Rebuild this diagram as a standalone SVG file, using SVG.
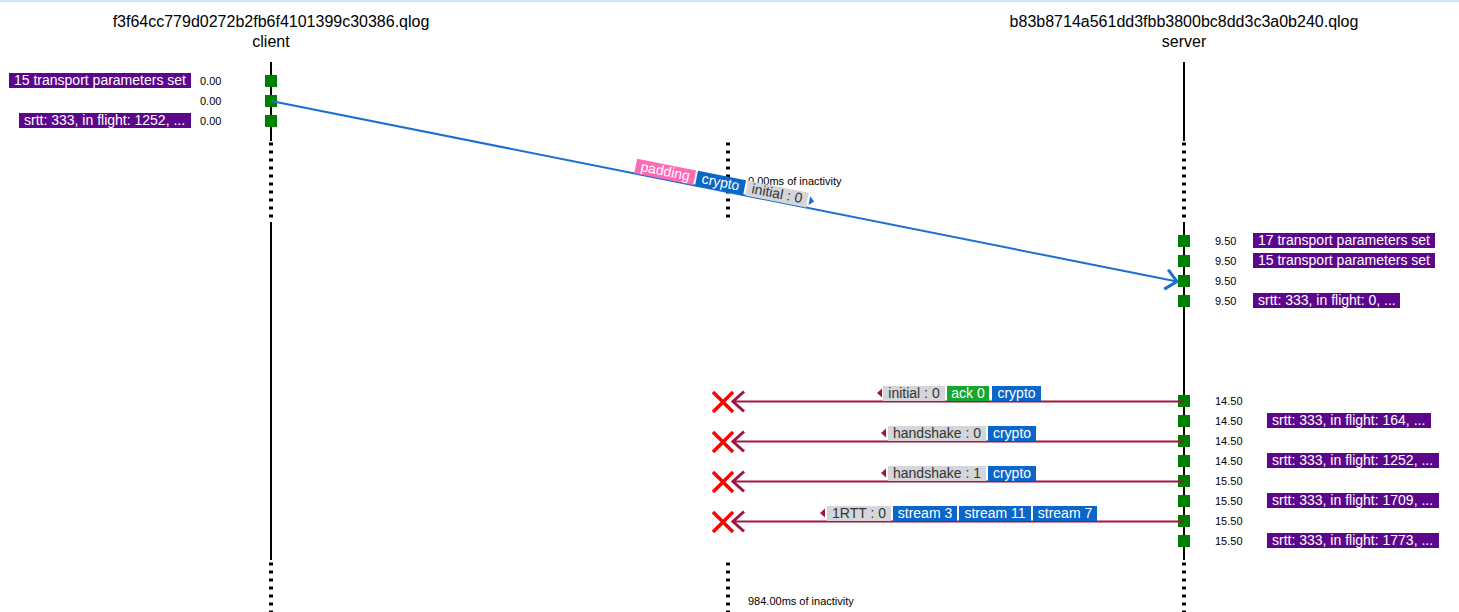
<svg xmlns="http://www.w3.org/2000/svg" width="1459" height="612" viewBox="0 0 1459 612">
<style>
text{font-family:"Liberation Sans",Arial,sans-serif}
.title{font-size:16px;fill:#000;text-anchor:middle}
.axis{stroke:#000;stroke-width:2}
.dots{stroke:#000;stroke-width:4;stroke-dasharray:3 5}
.ev{fill:#008000}
.time{font-size:11px;fill:#000}
.inact{font-size:11px;fill:#000}
.tag{fill:#5c068c}
.tagt{font-size:14px;fill:#fff}
.lbl{font-size:14px;text-anchor:middle;fill:#fff}
.hdr{fill:#d4d6d9}
.hdrt{font-size:14px;text-anchor:middle;fill:#333}
.blue{fill:#0b66c9}
.green{fill:#14a830}
.pink{fill:#ff69b4}
.sent{stroke:#1a6fd0;stroke-width:2;fill:none}
.lost{stroke:#a31440;stroke-width:2;fill:none}
.xm{stroke:#ff0000;stroke-width:3.5;fill:none}
</style>
<defs>
<marker id="hb" markerUnits="userSpaceOnUse" markerWidth="30" markerHeight="30" viewBox="-15 -15 30 30" refX="0" refY="0" orient="auto">
<path d="M-11,-10 L0,0 L-11,10" fill="none" stroke="#1a6fd0" stroke-width="3"/>
</marker>
<marker id="hr" markerUnits="userSpaceOnUse" markerWidth="30" markerHeight="30" viewBox="-15 -15 30 30" refX="0" refY="0" orient="auto">
<path d="M-11,-10 L0,0 L-11,10" fill="none" stroke="#a31440" stroke-width="3"/>
</marker>
</defs>
<rect x="0" y="0" width="1459" height="2" fill="#cde4f7"/>

<g id="client">
<text class="title" x="271" y="27">f3f64cc779d0272b2fb6f4101399c30386.qlog</text>
<text class="title" x="271" y="47">client</text>
<line class="axis" x1="271" y1="62" x2="271" y2="141"/>
<line class="dots" x1="271" y1="142.5" x2="271" y2="219"/>
<line class="axis" x1="271" y1="222" x2="271" y2="560"/>
<line class="dots" x1="271" y1="562.5" x2="271" y2="612"/>
</g>

<g id="server">
<text class="title" x="1184" y="27">b83b8714a561dd3fbb3800bc8dd3c3a0b240.qlog</text>
<text class="title" x="1184" y="47">server</text>
<line class="axis" x1="1184" y1="62" x2="1184" y2="141"/>
<line class="dots" x1="1184" y1="142.5" x2="1184" y2="219"/>
<line class="axis" x1="1184" y1="222" x2="1184" y2="560"/>
<line class="dots" x1="1184" y1="562.5" x2="1184" y2="612"/>
</g>

<g id="inactivity-1">
<line class="dots" x1="728" y1="142.5" x2="728" y2="219"/>
<text class="inact" x="748" y="185">0.00ms of inactivity</text>
</g>
<g id="inactivity-2">
<line class="dots" x1="728" y1="562.5" x2="728" y2="612"/>
<text class="inact" x="748" y="605">984.00ms of inactivity</text>
</g>

<g id="client-events">
<rect class="tag" x="9" y="73" width="182" height="15"/>
<text class="tagt" x="14" y="85">15 transport parameters set</text>
<text class="time" x="200" y="85">0.00</text>
<rect class="ev" x="265" y="75" width="12" height="12"/>
<text class="time" x="200" y="105">0.00</text>
<rect class="ev" x="265" y="95" width="12" height="12"/>
<rect class="tag" x="19" y="113" width="172" height="15"/>
<text class="tagt" x="24" y="125">srtt: 333, in flight: 1252, ...</text>
<text class="time" x="200" y="125">0.00</text>
<rect class="ev" x="265" y="115" width="12" height="12"/>
</g>

<g id="server-events">
<rect class="ev" x="1178" y="235" width="12" height="12"/>
<text class="time" x="1215" y="245">9.50</text>
<rect class="tag" x="1253" y="233" width="182" height="15"/>
<text class="tagt" x="1258" y="245">17 transport parameters set</text>
<rect class="ev" x="1178" y="255" width="12" height="12"/>
<text class="time" x="1215" y="265">9.50</text>
<rect class="tag" x="1253" y="253" width="182" height="15"/>
<text class="tagt" x="1258" y="265">15 transport parameters set</text>
<rect class="ev" x="1178" y="275" width="12" height="12"/>
<text class="time" x="1215" y="285">9.50</text>
<rect class="ev" x="1178" y="295" width="12" height="12"/>
<text class="time" x="1215" y="305">9.50</text>
<rect class="tag" x="1253" y="293" width="147" height="15"/>
<text class="tagt" x="1258" y="305">srtt: 333, in flight: 0, ...</text>

<rect class="ev" x="1178" y="395" width="12" height="12"/>
<text class="time" x="1215" y="405">14.50</text>
<rect class="ev" x="1178" y="415" width="12" height="12"/>
<text class="time" x="1215" y="425">14.50</text>
<rect class="tag" x="1267" y="413" width="164" height="15"/>
<text class="tagt" x="1272" y="425">srtt: 333, in flight: 164, ...</text>
<rect class="ev" x="1178" y="435" width="12" height="12"/>
<text class="time" x="1215" y="445">14.50</text>
<rect class="ev" x="1178" y="455" width="12" height="12"/>
<text class="time" x="1215" y="465">14.50</text>
<rect class="tag" x="1267" y="453" width="172" height="15"/>
<text class="tagt" x="1272" y="465">srtt: 333, in flight: 1252, ...</text>
<rect class="ev" x="1178" y="475" width="12" height="12"/>
<text class="time" x="1215" y="485">15.50</text>
<rect class="ev" x="1178" y="495" width="12" height="12"/>
<text class="time" x="1215" y="505">15.50</text>
<rect class="tag" x="1267" y="493" width="172" height="15"/>
<text class="tagt" x="1272" y="505">srtt: 333, in flight: 1709, ...</text>
<rect class="ev" x="1178" y="515" width="12" height="12"/>
<text class="time" x="1215" y="525">15.50</text>
<rect class="ev" x="1178" y="535" width="12" height="12"/>
<text class="time" x="1215" y="545">15.50</text>
<rect class="tag" x="1267" y="533" width="172" height="15"/>
<text class="tagt" x="1272" y="545">srtt: 333, in flight: 1773, ...</text>
</g>

<g id="connectors">
<g id="pkt-initial-client">
<line class="sent" x1="271" y1="101" x2="1177" y2="281.5" marker-end="url(#hb)"/>
<g transform="translate(724,191.25) rotate(11.27)">
<rect class="pink" x="-91.5" y="-15" width="60" height="15"/>
<text class="lbl" x="-61.5" y="-3.5">padding</text>
<rect class="blue" x="-29.5" y="-15" width="49" height="15"/>
<text class="lbl" x="-5" y="-3.5">crypto</text>
<rect class="hdr" x="21.5" y="-15" width="62" height="15"/>
<text class="hdrt" x="52.5" y="-3.5">initial : 0</text>
<polygon points="85.5,-12 90.5,-7.5 85.5,-3" fill="#1a6fd0"/>
</g>
</g>

<g id="pkt-initial-server">
<line class="lost" x1="1184" y1="401.5" x2="733" y2="401.5" marker-end="url(#hr)"/>
<path class="xm" d="M713,392 L733,412 M713,412 L733,392"/>
<polygon points="877,393 882,388.5 882,397.5" fill="#a31440"/>
<rect class="hdr" x="883" y="386" width="62" height="15"/>
<text class="hdrt" x="914" y="397.5">initial : 0</text>
<rect class="green" x="947" y="386" width="42" height="15"/>
<text class="lbl" x="968" y="397.5">ack 0</text>
<rect class="blue" x="992" y="386" width="49" height="15"/>
<text class="lbl" x="1016.5" y="397.5">crypto</text>
</g>

<g id="pkt-handshake-0">
<line class="lost" x1="1184" y1="441.5" x2="733" y2="441.5" marker-end="url(#hr)"/>
<path class="xm" d="M713,432 L733,452 M713,452 L733,432"/>
<polygon points="881,433 886,428.5 886,437.5" fill="#a31440"/>
<rect class="hdr" x="888" y="426" width="98" height="15"/>
<text class="hdrt" x="937" y="437.5">handshake : 0</text>
<rect class="blue" x="988" y="426" width="48" height="15"/>
<text class="lbl" x="1012" y="437.5">crypto</text>
</g>

<g id="pkt-handshake-1">
<line class="lost" x1="1184" y1="481.5" x2="733" y2="481.5" marker-end="url(#hr)"/>
<path class="xm" d="M713,472 L733,492 M713,492 L733,472"/>
<polygon points="881,473 886,468.5 886,477.5" fill="#a31440"/>
<rect class="hdr" x="888" y="466" width="98" height="15"/>
<text class="hdrt" x="937" y="477.5">handshake : 1</text>
<rect class="blue" x="988" y="466" width="48" height="15"/>
<text class="lbl" x="1012" y="477.5">crypto</text>
</g>

<g id="pkt-1rtt-0">
<line class="lost" x1="1184" y1="521.5" x2="733" y2="521.5" marker-end="url(#hr)"/>
<path class="xm" d="M713,512 L733,532 M713,532 L733,512"/>
<polygon points="820,513 825,508.5 825,517.5" fill="#a31440"/>
<rect class="hdr" x="827" y="506" width="64" height="15"/>
<text class="hdrt" x="859" y="517.5">1RTT : 0</text>
<rect class="blue" x="893" y="506" width="64" height="15"/>
<text class="lbl" x="925" y="517.5">stream 3</text>
<rect class="blue" x="959" y="506" width="72" height="15"/>
<text class="lbl" x="995" y="517.5">stream 11</text>
<rect class="blue" x="1033" y="506" width="64" height="15"/>
<text class="lbl" x="1065" y="517.5">stream 7</text>
</g>
</g>
</svg>
